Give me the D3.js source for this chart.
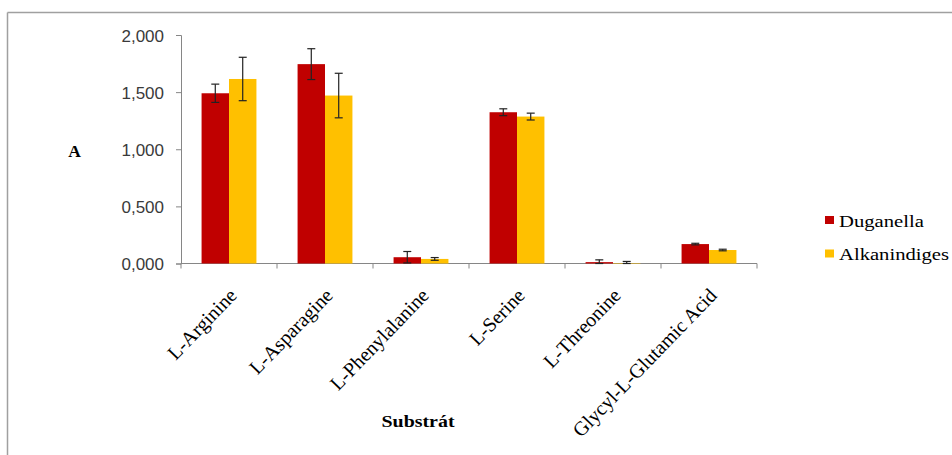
<!DOCTYPE html>
<html><head><meta charset="utf-8">
<script src="https://cdn.jsdelivr.net/npm/d3@7"></script>
<style>body{margin:0;background:#fff}</style>
</head><body>
<svg id="c" width="952" height="455"></svg>
<script>
const categories = ["L-Arginine","L-Asparagine","L-Phenylalanine","L-Serine","L-Threonine","Glycyl-L-Glutamic Acid"];
const seriesNames = ["Duganella","Alkanindiges"];
const duganella = [1.490, 1.745, 0.055, 1.324, 0.012, 0.170];
const duganellaErr = [0.080, 0.135, 0.050, 0.030, 0.020, 0.007];
const alkanindiges = [1.615, 1.470, 0.040, 1.286, 0.004, 0.118];
const alkanindigesErr = [0.190, 0.195, 0.012, 0.030, 0.014, 0.007];
const yTicks = [0, 0.5, 1.0, 1.5, 2.0];
const colors = ["#C00000","#FFC000"];

(function(){
const serif = "'Liberation Serif','Times New Roman',serif";
const svg = d3.select("#c");
// frame
svg.append("line").attr("x1",7.5).attr("x2",952).attr("y1",12.5).attr("y2",12.5).attr("stroke","#a0a0a0").attr("stroke-width",1.5);
svg.append("line").attr("x1",7.5).attr("x2",7.5).attr("y1",12.5).attr("y2",455).attr("stroke","#a0a0a0").attr("stroke-width",1.5);

const pLeft=181, pRight=757, pTop=35, pBottom=263.5;
const x = d3.scaleBand().domain(categories).range([pLeft,pRight]).paddingInner(0).paddingOuter(0);
const bw = x.bandwidth()/3.5;
const xs = d3.scaleBand().domain(seriesNames).range([0, 2*bw]);
const y = d3.scaleLinear().domain([0,2]).range([pBottom, pTop]);

// y axis
const yAxis = d3.axisLeft(y).tickValues(yTicks).tickSize(5).tickPadding(12)
  .tickFormat(d => d3.format(".3f")(d).replace(".", ","));
const gy = svg.append("g").attr("transform",`translate(${pLeft},0)`).call(yAxis);
gy.selectAll("path,line").attr("stroke","#868686");
gy.selectAll("text").attr("font-family","'Liberation Sans', Arial, sans-serif").attr("font-size",17).attr("fill","#3a3a3a").attr("dy","0.38em");

// x axis
const gx = svg.append("g").attr("transform",`translate(0,${pBottom})`);
gx.append("line").attr("x1",pLeft).attr("x2",pRight).attr("y1",0).attr("y2",0).attr("stroke","#868686");
gx.selectAll("line.t").data(d3.range(categories.length+1)).join("line").attr("class","t")
  .attr("x1",i=>pLeft+i*x.bandwidth()).attr("x2",i=>pLeft+i*x.bandwidth()).attr("y1",0).attr("y2",5).attr("stroke","#868686");
gx.selectAll("text").data(categories).join("text")
  .attr("transform",d=>`translate(${x(d)+x.bandwidth()/2+9},${33}) rotate(-46)`)
  .attr("text-anchor","end").attr("font-family",serif).attr("font-size",20).attr("fill","#000").text(d=>d);

// bars
const series = [
  {name:seriesNames[0], vals:duganella, err:duganellaErr, color:colors[0]},
  {name:seriesNames[1], vals:alkanindiges, err:alkanindigesErr, color:colors[1]}
];
const off = (x.bandwidth()-2*bw)/2;
series.forEach(s=>{
  svg.append("g").selectAll("rect").data(categories).join("rect")
    .attr("x",(c)=>x(c)+off+xs(s.name)).attr("width",bw)
    .attr("y",(c,i)=>y(s.vals[i])).attr("height",(c,i)=>y(0)-y(s.vals[i]))
    .attr("fill",s.color);
});
series.forEach(s=>{
  const g = svg.append("g").attr("stroke","#222").attr("stroke-width",1.2);
  categories.forEach((c,i)=>{
    const cx = x(c)+off+xs(s.name)+bw/2;
    const y1 = y(s.vals[i]+s.err[i]), y2 = y(Math.max(0,s.vals[i]-s.err[i]));
    g.append("line").attr("x1",cx).attr("x2",cx).attr("y1",y1).attr("y2",y2);
    g.append("line").attr("x1",cx-4).attr("x2",cx+4).attr("y1",y1).attr("y2",y1);
    g.append("line").attr("x1",cx-4).attr("x2",cx+4).attr("y1",y2).attr("y2",y2);
  });
});

// axis titles
svg.append("text").attr("x",74.5).attr("y",156.5).attr("text-anchor","middle")
  .attr("font-family",serif).attr("font-weight","bold").attr("font-size",17.5).text("A");
svg.append("text").attr("transform","translate(418,427) scale(1.14,1)").attr("text-anchor","middle")
  .attr("font-family",serif).attr("font-weight","bold").attr("font-size",17.5).text("Substrát");

// legend
series.forEach((s,i)=>{
  const ly = 226.5 + i*33.5;
  svg.append("rect").attr("x",825).attr("y",ly-10.5).attr("width",9).attr("height",8).attr("fill",s.color);
  svg.append("text").attr("transform",`translate(839,${ly}) scale(1.18,1)`).attr("font-family",serif).attr("font-size",17.5).text(s.name);
});
})();
</script>
</body></html>
